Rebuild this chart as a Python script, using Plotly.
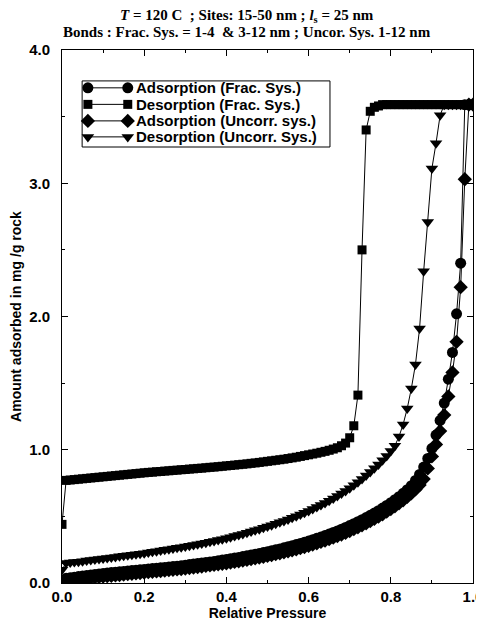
import plotly.graph_objects as go

pressure = [round(i * 0.01, 2) for i in range(101)]

ads_frac = [
    0.000, 0.035, 0.040, 0.044, 0.048, 0.052, 0.056, 0.060, 0.064, 0.068,
    0.072, 0.075, 0.078, 0.081, 0.084, 0.087, 0.090, 0.093, 0.096, 0.099,
    0.102, 0.105, 0.108, 0.111, 0.114, 0.117, 0.120, 0.123, 0.126, 0.130,
    0.134, 0.138, 0.142, 0.146, 0.150, 0.154, 0.158, 0.162, 0.167, 0.172,
    0.177, 0.182, 0.187, 0.192, 0.198, 0.204, 0.210, 0.216, 0.222, 0.228,
    0.235, 0.242, 0.249, 0.256, 0.264, 0.272, 0.280, 0.288, 0.297, 0.306,
    0.315, 0.325, 0.335, 0.345, 0.356, 0.367, 0.379, 0.391, 0.404, 0.417,
    0.431, 0.445, 0.460, 0.475, 0.491, 0.508, 0.525, 0.543, 0.562, 0.582,
    0.603, 0.625, 0.648, 0.673, 0.700, 0.730, 0.770, 0.815, 0.870, 0.935,
    1.010, 1.110, 1.220, 1.350, 1.530, 1.730, 2.020, 2.400, 3.590, 3.590,
    3.590,
]

des_frac = [
    0.440, 0.770, 0.773, 0.776, 0.779, 0.782, 0.785, 0.788, 0.791, 0.794,
    0.797, 0.800, 0.803, 0.806, 0.809, 0.812, 0.815, 0.818, 0.821, 0.824,
    0.827, 0.830, 0.832, 0.835, 0.837, 0.840, 0.842, 0.845, 0.847, 0.850,
    0.852, 0.855, 0.857, 0.860, 0.862, 0.865, 0.868, 0.870, 0.873, 0.876,
    0.879, 0.882, 0.885, 0.888, 0.891, 0.894, 0.898, 0.901, 0.905, 0.909,
    0.913, 0.917, 0.921, 0.925, 0.929, 0.934, 0.939, 0.944, 0.950, 0.956,
    0.962, 0.968, 0.974, 0.981, 0.988, 0.996, 1.005, 1.015, 1.030, 1.050,
    1.090, 1.180, 1.410, 2.500, 3.400, 3.540, 3.570, 3.580, 3.590, 3.590,
    3.590, 3.590, 3.590, 3.590, 3.590, 3.590, 3.590, 3.590, 3.590, 3.590,
    3.590, 3.590, 3.590, 3.590, 3.590, 3.590, 3.590, 3.590, 3.590, 3.590,
    3.590,
]

ads_uncorr = [
    0.000, 0.018, 0.022, 0.026, 0.030, 0.033, 0.036, 0.039, 0.042, 0.045,
    0.048, 0.051, 0.054, 0.057, 0.060, 0.063, 0.066, 0.069, 0.072, 0.075,
    0.078, 0.081, 0.084, 0.087, 0.090, 0.093, 0.096, 0.099, 0.102, 0.105,
    0.108, 0.112, 0.116, 0.120, 0.124, 0.128, 0.132, 0.136, 0.140, 0.144,
    0.148, 0.153, 0.158, 0.163, 0.168, 0.173, 0.179, 0.185, 0.191, 0.197,
    0.203, 0.209, 0.216, 0.223, 0.230, 0.237, 0.245, 0.253, 0.261, 0.270,
    0.279, 0.288, 0.298, 0.308, 0.318, 0.329, 0.340, 0.352, 0.364, 0.377,
    0.390, 0.404, 0.418, 0.433, 0.448, 0.464, 0.481, 0.498, 0.516, 0.535,
    0.555, 0.576, 0.598, 0.621, 0.646, 0.673, 0.702, 0.735, 0.780, 0.860,
    0.950, 1.040, 1.140, 1.260, 1.400, 1.580, 1.810, 2.220, 3.030, 3.590,
    3.590,
]

des_uncorr = [
    0.100, 0.150, 0.153, 0.157, 0.160, 0.164, 0.168, 0.172, 0.176, 0.180,
    0.184, 0.188, 0.192, 0.196, 0.200, 0.204, 0.208, 0.212, 0.216, 0.220,
    0.224, 0.229, 0.234, 0.239, 0.244, 0.249, 0.254, 0.259, 0.264, 0.269,
    0.274, 0.280, 0.285, 0.291, 0.297, 0.303, 0.309, 0.315, 0.322, 0.329,
    0.336, 0.344, 0.352, 0.360, 0.368, 0.377, 0.386, 0.395, 0.404, 0.414,
    0.424, 0.434, 0.444, 0.455, 0.466, 0.477, 0.489, 0.501, 0.514, 0.527,
    0.541, 0.555, 0.570, 0.585, 0.601, 0.617, 0.634, 0.652, 0.671, 0.691,
    0.712, 0.734, 0.757, 0.781, 0.806, 0.833, 0.861, 0.890, 0.921, 0.954,
    0.990, 1.030, 1.100, 1.190, 1.310, 1.460, 1.640, 1.910, 2.340, 2.710,
    3.110, 3.300, 3.510, 3.590, 3.590, 3.590, 3.590, 3.590, 3.590, 3.590,
    3.590,
]

series_names = ["Adsorption (Frac. Sys.)", "Desorption (Frac. Sys.)",
                "Adsorption (Uncorr. sys.)", "Desorption (Uncorr. Sys.)"]
series_values = [ads_frac, des_frac, ads_uncorr, des_uncorr]
series_symbols = ["circle", "square", "diamond", "triangle-down"]
series_sizes = [11, 9, 11, 11]

title_line1 = "<i>T</i> = 120 C  ; Sites: 15-50 nm ; <i>l</i><sub>s</sub> = 25 nm"
title_line2 = "Bonds : Frac. Sys. = 1-4  &amp; 3-12 nm ; Uncor. Sys. 1-12 nm"

fig = go.Figure()
for name, vals, sym, sz in zip(series_names, series_values, series_symbols, series_sizes):
    fig.add_trace(go.Scatter(
        x=pressure, y=vals, name=name, mode="lines+markers", showlegend=False,
        line=dict(color="black", width=1),
        marker=dict(symbol=sym, size=sz, color="black", line=dict(width=0)),
    ))

# Hand-made legend (marker-line-marker symbols) on an overlay axis
leg_left, leg_right = 0.049, 0.652
leg_top, leg_bottom = 0.942, 0.818
row_y = [0.929, 0.898, 0.867, 0.837]
sym_x0, sym_x1, txt_x = 0.063, 0.160, 0.176

fig.add_shape(type="rect", xref="paper", yref="paper",
              x0=leg_left, x1=leg_right, y0=leg_bottom, y1=leg_top,
              line=dict(color="black", width=1), fillcolor="white", layer="below")
for i, (name, sym, sz) in enumerate(zip(series_names, series_symbols, series_sizes)):
    fig.add_trace(go.Scatter(
        x=[sym_x0, sym_x1], y=[row_y[i], row_y[i]], xaxis="x2", yaxis="y2",
        mode="lines+markers", showlegend=False, hoverinfo="skip",
        line=dict(color="black", width=1),
        marker=dict(symbol=sym, size=sz, color="black", line=dict(width=0)),
    ))
    fig.add_annotation(text=name, xref="paper", yref="paper", x=txt_x, y=row_y[i],
                       xanchor="left", yanchor="middle", align="left", showarrow=False,
                       font=dict(family="Liberation Sans", size=15, color="black", weight="bold"))

title_font = dict(family="Liberation Serif", size=15, color="black", weight="bold")
fig.add_annotation(text=title_line1, xref="paper", yref="paper", x=0.45, y=1.064,
                   xanchor="center", yanchor="middle", showarrow=False, font=title_font)
fig.add_annotation(text=title_line2, xref="paper", yref="paper", x=0.45, y=1.034,
                   xanchor="center", yanchor="middle", showarrow=False, font=title_font)

axis_font = dict(family="Liberation Sans", size=15, color="black", weight="bold")

# The page body adds an 8 px offset; the figure is sized so it ends at the window edge.
fig.update_layout(
    width=476, height=617,
    margin=dict(l=54, r=11, t=42, b=42, autoexpand=False),
    paper_bgcolor="white", plot_bgcolor="white",
    showlegend=False,
    xaxis=dict(
        range=[0, 1.0], dtick=0.2, tickformat=".1f", automargin=False,
        ticks="inside", ticklen=6, tickcolor="black",
        minor=dict(dtick=0.1, ticks="inside", ticklen=3, tickcolor="black"),
        showgrid=False, zeroline=False,
        showline=True, linecolor="black", linewidth=1, mirror="allticks",
        tickfont=axis_font,
        title=dict(text="Relative Pressure", standoff=2,
                   font=dict(family="Liberation Sans", size=14, color="black", weight="bold")),
    ),
    yaxis=dict(
        range=[0, 4.0], dtick=1.0, tickformat=".1f", automargin=False,
        ticks="inside", ticklen=6, tickcolor="black",
        minor=dict(dtick=0.5, ticks="inside", ticklen=3, tickcolor="black"),
        showgrid=False, zeroline=False,
        showline=True, linecolor="black", linewidth=1, mirror="allticks",
        tickfont=axis_font, ticklabelstandoff=8,
        title=dict(text="Amount adsorbed in mg /g rock", standoff=6,
                   font=dict(family="Liberation Sans", size=14, color="black", weight="bold")),
    ),
    xaxis2=dict(domain=[0, 1], range=[0, 1], visible=False, overlaying="x", fixedrange=True),
    yaxis2=dict(domain=[0, 1], range=[0, 1], visible=False, overlaying="y", fixedrange=True),
)

fig.write_html("out.html")
